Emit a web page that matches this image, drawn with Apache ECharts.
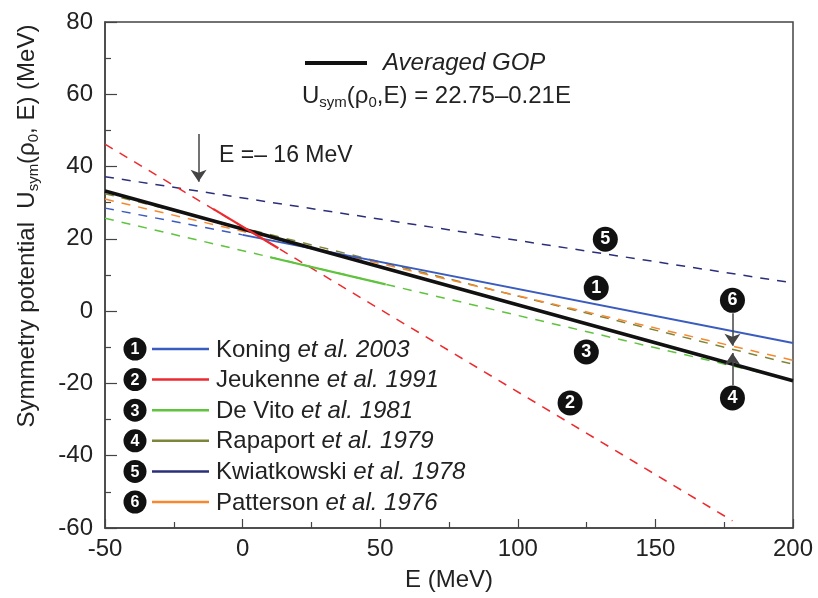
<!DOCTYPE html>
<html>
<head>
<meta charset="utf-8">
<script src="https://cdn.jsdelivr.net/npm/echarts@6/dist/echarts.min.js"></script>
<style>
  html, body { margin: 0; padding: 0; background: #fff; }
  #chart { width: 818px; height: 598px; }
</style>
</head>
<body>
<div id="chart"></div>
<script>
// end points, [E (MeV), U (MeV)]
var avgGOP = [[-50, 33.25], [200, -19.25]];
var koningDash = [[-50, 28.5], [0, 21.1]];
var koningSolid = [[0, 21.1], [200, -8.8]];
var jeukenneDash = [[-50, 46.2], [178, -58]];
var jeukenneSolid = [[-10.7, 28.3], [13, 17.4]];
var devitoDash = [[-50, 25.7], [200, -19.1]];
var devitoSolid = [[10, 14.9], [52, 7.4]];
var rapaportDash = [[-50, 32.5], [200, -14.7]];
var kwiatDash = [[-50, 37.2], [200, 7.8]];
var pattersonDash = [[-50, 31.0], [200, -13.6]];

// circled numbers on the curves [E, U, number]
var curveTags = [[131.8, 19.9, '5'], [128.5, 6.4, '1'], [124.9, -11.3, '3'], [119, -25.4, '2'], [178, 3.0, '6'], [178, -24, '4']];
// arrows [from, to]
var arrows = [[[-16, 49], [-16, 35.8]], [[178, -0.6], [178, -9.6]], [[178, -20.5], [178, -11.6]]];

var xTicks = [-50, 200, 50];
var yTicks = [-60, 80, 20];

var studies = [
  {num: '1', name: 'Koning ', it: 'et al. 2003', color: '#3b5cbf'},
  {num: '2', name: 'Jeukenne ', it: 'et al. 1991', color: '#ee2a2e'},
  {num: '3', name: 'De Vito ', it: 'et al. 1981', color: '#5fc33e'},
  {num: '4', name: 'Rapaport ', it: 'et al. 1979', color: '#7f8538'},
  {num: '5', name: 'Kwiatkowski ', it: 'et al. 1978', color: '#2b2f7a'},
  {num: '6', name: 'Patterson ', it: 'et al. 1976', color: '#f7882f'}
];

var FONT = '"Liberation Sans", Arial, Helvetica, sans-serif';
var FS = 24;

function dashed(data, color) {
  return {
    type: 'line', data: data, symbol: 'none', silent: true, z: 2,
    lineStyle: {color: color, width: 1.5, type: [9, 8]}
  };
}
function solid(data, color, w, z) {
  return {
    type: 'line', data: data, symbol: 'none', silent: true, z: z || 4,
    lineStyle: {color: color, width: w || 2}
  };
}

var legendEls = [];
studies.forEach(function (s, i) {
  var y = 349 + i * 30.6;
  legendEls.push({type: 'circle', shape: {cx: 135, cy: y, r: 11.5}, style: {fill: '#111'}});
  legendEls.push({type: 'text', x: 135, y: y + 1, style: {text: s.num, fill: '#fff', font: 'bold 16px ' + FONT, align: 'center', verticalAlign: 'middle'}});
  legendEls.push({type: 'line', shape: {x1: 152, y1: y, x2: 209, y2: y}, style: {stroke: s.color, lineWidth: 2.5}});
  legendEls.push({type: 'text', x: 216, y: y + 1, style: {
    text: s.name + '{i|' + s.it + '}',
    font: FS + 'px ' + FONT, fill: '#222', verticalAlign: 'middle',
    rich: {i: {fontStyle: 'italic', fontSize: FS, fontFamily: FONT, fill: '#222'}}
  }});
});

var chart = echarts.init(document.getElementById('chart'));
var option = {
  animation: false,
  backgroundColor: '#fff',
  grid: {left: 105, right: 25, top: 22, bottom: 70, show: true, borderColor: '#444', borderWidth: 1.5},
  xAxis: {
    type: 'value', min: xTicks[0], max: xTicks[1], interval: xTicks[2],
    name: 'E (MeV)', nameLocation: 'middle', nameGap: 40,
    nameTextStyle: {fontFamily: FONT, fontSize: FS, color: '#222'},
    axisLine: {onZero: false, lineStyle: {color: '#444', width: 1.5}},
    axisTick: {inside: true, length: 9, lineStyle: {color: '#444', width: 1.2}},
    minorTick: {show: true, splitNumber: 2, length: 6, lineStyle: {color: '#444', width: 1.2}},
    splitLine: {show: false},
    axisLabel: {fontFamily: FONT, fontSize: FS, color: '#222', margin: 9}
  },
  yAxis: {
    type: 'value', min: yTicks[0], max: yTicks[1], interval: yTicks[2],
    axisLine: {onZero: false, lineStyle: {color: '#444', width: 1.5}},
    axisTick: {inside: true, length: 12, lineStyle: {color: '#444', width: 1.2}},
    minorTick: {show: true, splitNumber: 2, length: 6, lineStyle: {color: '#444', width: 1.2}},
    splitLine: {show: false},
    axisLabel: {fontFamily: FONT, fontSize: FS, color: '#222', margin: 12}
  },
  series: [
    dashed(kwiatDash, studies[4].color),
    dashed(rapaportDash, studies[3].color),
    dashed(pattersonDash, studies[5].color),
    dashed(devitoDash, studies[2].color),
    dashed(koningDash, studies[0].color),
    dashed(jeukenneDash, studies[1].color),
    solid(koningSolid, studies[0].color, 2, 3),
    solid(devitoSolid, studies[2].color, 2.2, 3),
    solid(avgGOP, '#111', 3.5, 4),
    solid(jeukenneSolid, studies[1].color, 2.2, 5),
    {
      type: 'lines', coordinateSystem: 'cartesian2d', silent: true, z: 6,
      symbol: ['none', 'arrow'], symbolSize: [7, 12],
      lineStyle: {color: '#444', width: 1.5, opacity: 1},
      data: arrows.map(function (a) { return {coords: a}; })
    },
    {
      type: 'scatter', silent: true, z: 7,
      symbol: 'circle', symbolSize: 25,
      itemStyle: {color: '#111', opacity: 1},
      label: {show: true, position: 'inside', formatter: function (p) { return p.data[2]; },
        color: '#fff', fontFamily: FONT, fontSize: 18, fontWeight: 'bold'},
      data: curveTags
    }
  ],
  graphic: [
    {type: 'text', x: 27, y: 226, rotation: Math.PI / 2, style: {
      text: 'Symmetry potential  U{sub|sym}(ρ{sub|0}, E) (MeV)', font: FS + 'px ' + FONT, fill: '#222',
      align: 'center', verticalAlign: 'middle',
      rich: {sub: {fontFamily: FONT, fontSize: 15, fill: '#222', padding: [13, 0, 0, 0]}}
    }},
    {type: 'line', shape: {x1: 305, y1: 63, x2: 367, y2: 63}, style: {stroke: '#111', lineWidth: 4}},
    {type: 'text', x: 383, y: 63, style: {text: 'Averaged GOP', font: 'italic ' + FS + 'px ' + FONT, fill: '#222', verticalAlign: 'middle'}},
    {type: 'text', x: 302, y: 96, style: {
      text: 'U{sub|sym}(ρ{sub|0},E) = 22.75–0.21E', font: FS + 'px ' + FONT, fill: '#222', verticalAlign: 'middle',
      rich: {sub: {fontFamily: FONT, fontSize: 15, fill: '#222', padding: [13, 0, 0, 0]}}
    }},
    {type: 'text', x: 219, y: 156, style: {text: 'E =– 16 MeV', font: (FS - 1) + 'px ' + FONT, fill: '#222', verticalAlign: 'middle'}}
  ].concat(legendEls)
};
chart.setOption(option);
</script>
</body>
</html>
